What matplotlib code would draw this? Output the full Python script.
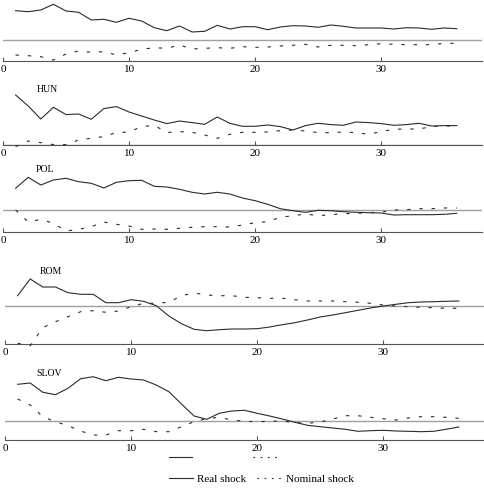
import matplotlib
matplotlib.use('Agg')  # no display
import matplotlib.pyplot as plt
from matplotlib.lines import Line2D

# Impulse responses, quarters 1..36 (arbitrary units)
periods = list(range(1, 37))

top_real = [2.93, 2.83, 3.0, 3.57, 2.9, 2.77, 2.0, 2.07, 1.77, 2.17, 1.9, 1.23,
            0.93, 1.4, 0.8, 0.87, 1.47, 1.1, 1.33, 1.33, 1.03, 1.3, 1.43, 1.4,
            1.27, 1.5, 1.37, 1.2, 1.2, 1.2, 1.1, 1.23, 1.2, 1.07, 1.2, 1.13]
top_nominal = [-1.5, -1.57, -1.67, -2.0, -1.4, -1.1, -1.23, -1.17, -1.5, -1.27,
               -0.93, -0.77, -0.83, -0.5, -0.9, -0.83, -0.77, -0.83, -0.67,
               -0.73, -0.7, -0.6, -0.53, -0.43, -0.7, -0.53, -0.53, -0.57,
               -0.47, -0.37, -0.43, -0.47, -0.47, -0.47, -0.33, -0.33]

hun_real = [5.03, 3.93, 2.63, 3.8, 3.07, 3.13, 2.6, 3.67, 3.87, 3.33, 2.93, 2.53,
            2.17, 2.43, 2.27, 2.1, 2.83, 2.2, 1.9, 1.9, 2.03, 1.87, 1.53, 1.97,
            2.2, 2.07, 2.0, 2.33, 2.27, 2.17, 2.0, 2.07, 2.2, 1.93, 1.97, 1.97]
hun_nominal = [-0.13, 0.43, 0.27, 0.07, 0.07, 0.53, 0.7, 0.87, 1.27, 1.33, 1.87,
               2.0, 1.27, 1.37, 1.3, 1.03, 0.7, 1.1, 1.3, 1.3, 1.33, 1.47, 1.53,
               1.43, 1.27, 1.27, 1.33, 1.27, 1.1, 1.37, 1.6, 1.63, 1.63, 1.87,
               1.93, 1.93]

pol_real = [2.17, 3.27, 2.5, 3.0, 3.17, 2.83, 2.67, 2.2, 2.77, 2.93, 2.97, 2.37,
            2.3, 2.07, 1.77, 1.6, 1.77, 1.6, 1.2, 0.93, 0.57, 0.13, -0.07,
            -0.23, -0.03, -0.07, -0.17, -0.23, -0.27, -0.3, -0.5, -0.47, -0.47,
            -0.47, -0.43, -0.33]
pol_nominal = [0.0, -1.2, -0.93, -1.33, -2.1, -1.93, -1.67, -1.2, -1.43, -1.6,
               -1.93, -1.9, -1.93, -1.83, -1.73, -1.67, -1.67, -1.7, -1.5, -1.27,
               -1.17, -0.73, -0.57, -0.4, -0.57, -0.47, -0.37, -0.33, -0.27,
               -0.23, 0.0, 0.03, 0.13, 0.13, 0.2, 0.2]

rom_real = [1.03, 2.7, 1.9, 1.9, 1.33, 1.17, 1.17, 0.33, 0.33, 0.63, 0.47, 0.03,
            -1.0, -1.77, -2.33, -2.47, -2.37, -2.3, -2.3, -2.27, -2.1, -1.87,
            -1.67, -1.4, -1.1, -0.9, -0.67, -0.43, -0.2, 0.0, 0.17, 0.33, 0.4,
            0.43, 0.47, 0.5]
rom_nominal = [-3.73, -3.97, -2.17, -1.57, -1.07, -0.57, -0.47, -0.63, -0.5,
               -0.07, 0.27, 0.27, 0.37, 1.03, 1.3, 1.1, 1.03, 1.03, 0.87, 0.83,
               0.77, 0.77, 0.63, 0.5, 0.5, 0.5, 0.43, 0.37, 0.27, 0.1, 0.0,
               -0.07, -0.13, -0.17, -0.23, -0.23]

slov_real = [3.67, 3.8, 2.87, 2.63, 3.27, 4.23, 4.43, 4.03, 4.37, 4.2, 4.1, 3.6,
             2.93, 1.7, 0.5, 0.17, 0.77, 1.0, 1.07, 0.77, 0.5, 0.2, -0.13,
             -0.43, -0.57, -0.7, -0.83, -1.03, -0.97, -0.93, -1.0, -1.03, -1.07,
             -1.03, -0.83, -0.6]
slov_nominal = [2.2, 1.6, 0.43, -0.07, -0.47, -1.0, -1.4, -1.4, -0.97, -0.97,
                -0.83, -1.07, -1.07, -0.57, -0.07, 0.23, 0.37, 0.1, -0.03, -0.07,
                -0.03, 0.0, -0.17, -0.23, -0.1, 0.2, 0.53, 0.53, 0.37, 0.23, 0.1,
                0.3, 0.43, 0.43, 0.37, 0.27]

plt.rcParams['font.family'] = ['Liberation Serif', 'DejaVu Serif']
plt.rcParams['font.size'] = 8

W, H = 485, 490
PX_PER_UNIT = 10.0
LINE = '#2b2b2b'

# (label, real, nominal, left px, top px, axis px, zero px, label x, label y)
panels = [
    ('', top_real, top_nominal, 3, 0, 60.7, 40, 0, 0),
    ('HUN', hun_real, hun_nominal, 3, 84, 145.3, 145.3, 37, 89),
    ('POL', pol_real, pol_nominal, 3, 165, 231.7, 210, 36, 169),
    ('ROM', rom_real, rom_nominal, 5, 268, 344.3, 306, 40, 272),
    ('SLOV', slov_real, slov_nominal, 5, 369, 440, 421, 36, 373),
]

fig = plt.figure(figsize=(W / 100, H / 100), dpi=100)

for name, real, nominal, left, top, bottom, zero, lx, ly in panels:
    right = left + 479
    ax = fig.add_axes([left / W, 1 - bottom / H, (right - left) / W, (bottom - top) / H])
    ax.patch.set_visible(False)

    ax.axhline(0, color='#a0a0a0', lw=1.0, zorder=1)
    ax.plot(periods, real, color=LINE, lw=0.8, zorder=3, clip_on=False)
    ax.plot(periods, nominal, color=LINE, lw=0.8, ls=(0, (3, 8)), zorder=3,
            clip_on=False)

    ax.set_xlim(0, 38)
    ax.set_ylim((zero - bottom) / PX_PER_UNIT, (zero - top) / PX_PER_UNIT)
    for side in ('top', 'right', 'left'):
        ax.spines[side].set_visible(False)
    ax.spines['bottom'].set_color('#555555')
    ax.spines['bottom'].set_linewidth(0.8)
    ax.set_xticks([0, 10, 20, 30])
    ax.set_yticks([])
    ax.tick_params(axis='x', direction='in', length=3, width=0.8,
                   color='#555555', pad=3, labelsize=8)

    if name:
        fig.text(lx / W, 1 - ly / H, name, fontsize=7, va='center', ha='left')

# Legend
handles = [Line2D([], [], color=LINE, lw=0.8),
           Line2D([], [], color=LINE, lw=0.8, ls=(0, (1.5, 5)))]
fig.legend(handles, ['Real shock', 'Nominal shock'], loc='center',
           bbox_to_anchor=(261 / W, 1 - 479 / H), ncol=2, frameon=False,
           fontsize=8, handlelength=2.2, handletextpad=0.4, columnspacing=0.9)

# stray legend keys left above the legend in the original
fig.add_artist(Line2D([169 / W, 192 / W], [1 - 457 / H, 1 - 457 / H],
                      color=LINE, lw=0.8, transform=fig.transFigure))
fig.add_artist(Line2D([253 / W, 277 / W], [1 - 457 / H, 1 - 457 / H],
                      color=LINE, lw=0.8, ls=(0, (1.5, 5)),
                      transform=fig.transFigure))

fig.savefig('out.png', dpi=100, facecolor='white')
